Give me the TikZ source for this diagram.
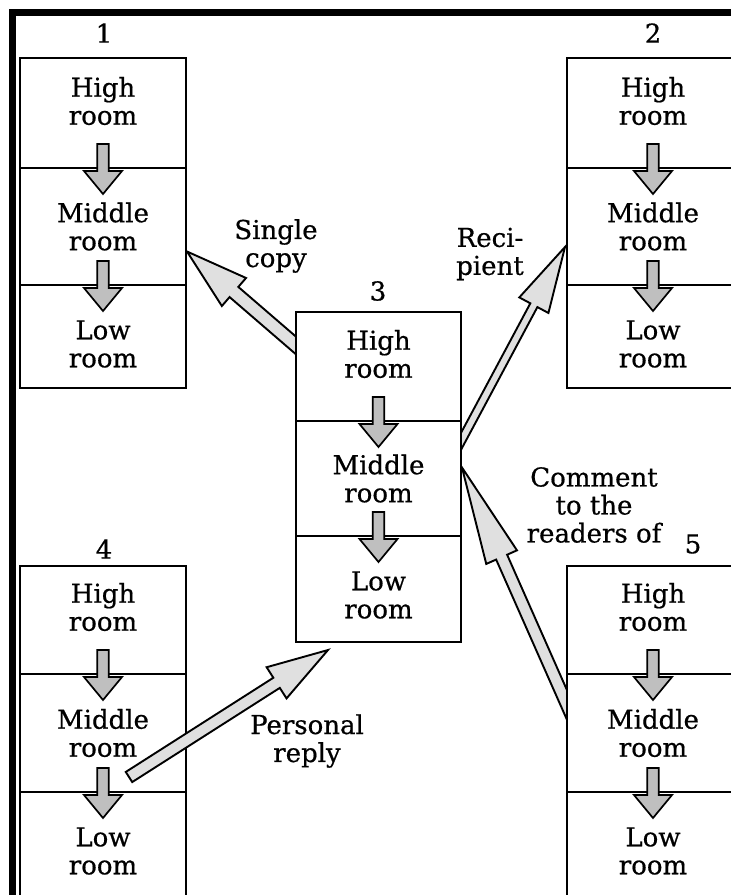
\documentclass[tikz,border=0pt]{standalone}
\usepackage{fontspec}
\setmainfont{DejaVu Serif}[FakeBold=0.6]
\usetikzlibrary{calc}
\pgfdeclarelayer{bg}
\pgfsetlayers{bg,main}

\tikzset{
  room/.style={draw, line width=1.9pt, fill=white, inner sep=0pt, outer sep=0pt},
  txt/.style={align=center, inner sep=0pt, font=\fontsize{26}{28}\selectfont},
  flowarrow/.style={draw, line width=1.7pt, fill=black!25, line join=miter},
  bigarrow/.style={draw, line width=1.9pt, fill=black!12, line join=miter},
  frameline/.style={line width=6.4pt, line join=miter}
}

% small downward arrow crossing a room boundary at point #1
\newcommand\flowdown[1]{%
  \draw[flowarrow] ($(#1)+(-5.8,-24)$) -- ($(#1)+(5.8,-24)$) -- ($(#1)+(5.8,3)$)
    -- ($(#1)+(19,3)$) -- ($(#1)+(0,26)$) -- ($(#1)+(-19,3)$) -- ($(#1)+(-5.8,3)$) -- cycle;}

% three stacked rooms: name, centre x, top y, width, three heights
\newcommand\roomstack[7]{%
  \node[room, minimum width=#4pt, minimum height=#5pt, anchor=north] (#1h) at (#2,#3) {};
  \node[room, minimum width=#4pt, minimum height=#6pt, anchor=north] (#1m) at (#1h.south) {};
  \node[room, minimum width=#4pt, minimum height=#7pt, anchor=north] (#1l) at (#1m.south) {};
  \node[txt] (#1ht) at ($(#1h.south)+(0,-67)$) {High\\room};
  \node[txt] (#1mt) at (#1m) {Middle\\room};
  \node[txt] (#1lt) at ($(#1l.north)+(0,59)$) {Low\\room};
  \flowdown{#1h.south}
  \flowdown{#1m.south}}

% broad arrow: base, tip, shaft half-width, head length, head half-width
\newcommand\broadarrow[5]{%
  \coordinate (ah) at ($(#2)!#4!(#1)$);
  \draw[bigarrow] ($(#1)!#3!90:(#2)$) -- ($(ah)!#3!90:(#2)$) -- ($(ah)!#5!90:(#2)$)
    -- (#2) -- ($(ah)!#5!-90:(#2)$) -- ($(ah)!#3!-90:(#2)$) -- ($(#1)!#3!-90:(#2)$) -- cycle;}

\begin{document}
\begin{tikzpicture}[x=1pt, y=-1pt]
\useasboundingbox (0,0) rectangle (731,895);
\clip (0,0) rectangle (731,895);
\begin{pgfonlayer}{bg}
  \fill[white] (0,0) rectangle (731,895);
\end{pgfonlayer}

% outer frame
\draw[frameline] (12.6,910) -- (12.6,12.3) -- (745,12.3);

% the five room stacks
\roomstack{b1}{103}{58}{166}{110}{117}{103}
\roomstack{b2}{653}{58}{172}{110}{117}{103}
\roomstack{b3}{378.5}{312}{165}{109}{115}{106}
\roomstack{b4}{103}{566}{166}{108}{118}{120}
\roomstack{b5}{653}{566}{172}{108}{118}{120}

% stack numbers
\node[txt] (n1) at (104,33) {1};
\node[txt] (n2) at (653,33) {2};
\node[txt] (n3) at (378,291) {3};
\node[txt] (n4) at (104,549) {4};
\node[txt] (n5) at (693,544) {5};

% end points of the broad arrows
\coordinate (scT) at ($(b1m.east)+(1,25)$);
\coordinate (scE) at ($(b3h.west)+(0,-21)$);
\coordinate (rcT) at ($(b2m.west)+(-2,20.5)$);
\coordinate (rcE) at ($(b3m.east)+(1,-39)$);
\coordinate (cmT) at ($(b3m.east)+(1,-11)$);
\coordinate (cmE) at ($(b5m.west)+(0,-28)$);
\coordinate (prB) at ($(b4m.east)+(-57,44)$);
\coordinate (prT) at ($(b3l.south west)+(32,8)$);

% arrows whose tails run under a stack
\begin{pgfonlayer}{bg}
  \coordinate (scB) at ($(scT)!1.15!(scE)$);
  \coordinate (rcB) at ($(rcT)!1.15!(rcE)$);
  \coordinate (cmB) at ($(cmT)!1.15!(cmE)$);
  \broadarrow{scB}{scT}{6.7pt}{62pt}{18.5pt}
  \broadarrow{rcB}{rcT}{4pt}{66pt}{16.5pt}
  \broadarrow{cmB}{cmT}{6pt}{98pt}{16.8pt}
\end{pgfonlayer}

% reply arrow lies on top of stack 4
\broadarrow{prB}{prT}{6pt}{61pt}{18.5pt}

% arrow captions
\node[txt] (lsc) at (276,246) {Single\\copy};
\node[txt] (lrc) at (490,254) {Reci-\\pient};
\node[txt] (lcm) at (594,505) {Comment\\to the\\readers of};
\node[txt] (lpr) at (307,741) {Personal\\reply};
\end{tikzpicture}
\end{document}
